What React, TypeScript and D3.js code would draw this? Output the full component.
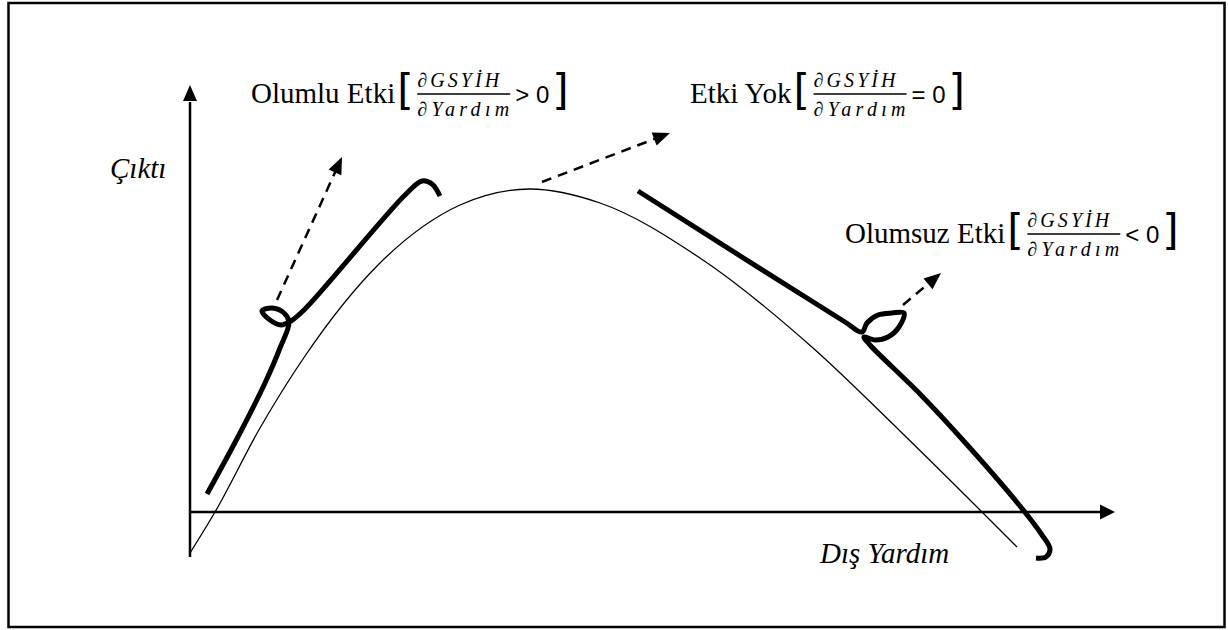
import React, { useEffect, useRef } from "react";
import * as d3 from "d3";

// units measured from the axis crossing: x = foreign aid, y = output
const baseCurve: [number, number][] = [
  [0, -41], [25, 0], [70, 84], [115, 156], [190, 249], [270, 307], [340, 323],
  [410, 309], [510, 254], [623, 164], [710, 81], [792, 0], [827, -35],
];

const positiveBranch: [number, number][] = [
  [17, 18], [50, 79], [75, 129], [90, 164], [99, 190], [94, 199], [82, 204],
  [72, 201], [80, 192], [91, 187], [101, 191], [115, 203], [215, 317],
  [232, 331], [242, 328], [250, 316],
];

const negativeBranch: [number, number][] = [
  [448, 321], [655, 190], [672, 180], [677, 189], [688, 197], [702, 199],
  [714, 199], [709, 185], [698, 175], [685, 172], [674, 175], [680, 167],
  [730, 118], [780, 64], [830, 6], [852, -23], [860, -37], [856, -45],
  [846, -46],
];

const arrowStarts: [number, number][] = [[87, 212], [352, 330], [713, 207]];
const arrowEnds: [number, number][] = [[152, 355], [480, 379], [751, 239]];

const effectLabels = ["Olumlu Etki", "Etki Yok", "Olumsuz Etki"];
const effectSigns = ["> 0", "= 0", "< 0"];
const fracTop = "∂GSYİH";
const fracBottom = "∂Yardım";
const yLabel = "Çıktı";
const xLabel = "Dış Yardım";

const W = 1228;
const H = 630;
const SERIF = "Liberation Serif";

let App = () => {
  const ref = useRef<SVGSVGElement>(null);

  useEffect(() => {
    let svg = d3.select(ref.current);
    svg.selectAll("*").remove();

    let x = d3.scaleLinear().domain([0, 910]).range([190, 1100]);
    let y = d3.scaleLinear().domain([0, 430]).range([512, 82]);

    // frame
    svg
      .append("rect")
      .attr("x", 8.5)
      .attr("y", 3)
      .attr("width", 1216)
      .attr("height", 624)
      .attr("fill", "white")
      .attr("stroke", "black")
      .attr("stroke-width", 2.5);

    let arrowHead = (tip: [number, number], from: [number, number], len: number, half: number) => {
      let dx = tip[0] - from[0];
      let dy = tip[1] - from[1];
      let l = Math.hypot(dx, dy);
      let ux = dx / l;
      let uy = dy / l;
      let bx = tip[0] - ux * len;
      let by = tip[1] - uy * len;
      return (
        "M" + tip[0] + "," + tip[1] +
        "L" + (bx - uy * half) + "," + (by + ux * half) +
        "L" + (bx + uy * half) + "," + (by - ux * half) + "Z"
      );
    };

    // axes
    svg
      .append("line")
      .attr("x1", x(0))
      .attr("y1", y(-45))
      .attr("x2", x(0))
      .attr("y2", y(410))
      .attr("stroke", "black")
      .attr("stroke-width", 2.5);
    svg
      .append("path")
      .attr("d", arrowHead([x(0), y(427)], [x(0), y(0)], 16, 7))
      .attr("fill", "black");
    svg
      .append("line")
      .attr("x1", x(0))
      .attr("y1", y(0))
      .attr("x2", x(912))
      .attr("y2", y(0))
      .attr("stroke", "black")
      .attr("stroke-width", 2.5);
    svg
      .append("path")
      .attr("d", arrowHead([x(925), y(0)], [x(0), y(0)], 15, 7.5))
      .attr("fill", "black");

    // thin base curve
    let smooth = d3
      .line<[number, number]>()
      .x((d) => x(d[0]))
      .y((d) => y(d[1]))
      .curve(d3.curveMonotoneX);
    svg
      .append("path")
      .attr("d", smooth(baseCurve))
      .attr("fill", "none")
      .attr("stroke", "black")
      .attr("stroke-width", 1.3);

    // thick hand-drawn branches
    let line = d3
      .line<[number, number]>()
      .x((d) => x(d[0]))
      .y((d) => y(d[1]))
      .curve(d3.curveCatmullRom.alpha(0.5));
    [positiveBranch, negativeBranch].forEach((branch) => {
      svg
        .append("path")
        .attr("d", line(branch))
        .attr("fill", "none")
        .attr("stroke", "black")
        .attr("stroke-width", 5)
        .attr("stroke-linejoin", "round");
    });

    // dashed effect arrows
    arrowStarts.forEach((s, i) => {
      let p0: [number, number] = [x(s[0]), y(s[1])];
      let p1: [number, number] = [x(arrowEnds[i][0]), y(arrowEnds[i][1])];
      let l = Math.hypot(p1[0] - p0[0], p1[1] - p0[1]);
      let k = (l - 12) / l;
      svg
        .append("line")
        .attr("x1", p0[0])
        .attr("y1", p0[1])
        .attr("x2", p0[0] + (p1[0] - p0[0]) * k)
        .attr("y2", p0[1] + (p1[1] - p0[1]) * k)
        .attr("stroke", "black")
        .attr("stroke-width", 2.5)
        .attr("stroke-dasharray", "10,7");
      svg.append("path").attr("d", arrowHead(p1, p0, 17, 7)).attr("fill", "black");
    });

    // effect labels with the derivative
    let labelPos = [
      { x: 251, y: 103 },
      { x: 690, y: 103 },
      { x: 845, y: 243 },
    ];
    effectLabels.forEach((txt, i) => {
      let p = labelPos[i];
      let g = svg.append("g");
      let main = g
        .append("text")
        .attr("x", p.x)
        .attr("y", p.y)
        .attr("font-family", SERIF)
        .attr("font-size", 29)
        .text(txt);
      let w = (main.node() as SVGTextElement).getComputedTextLength();
      let bx = p.x + w + 6;
      g.append("text")
        .attr("x", bx - 4)
        .attr("y", p.y + 2)
        .attr("font-family", "DejaVu Sans")
        .attr("font-size", 42)
        .text("[");
      let fx = bx + 16;
      g.append("line")
        .attr("x1", fx)
        .attr("x2", fx + 93)
        .attr("y1", p.y - 9)
        .attr("y2", p.y - 9)
        .attr("stroke", "black")
        .attr("stroke-width", 1.5);
      g.append("text")
        .attr("x", fx)
        .attr("y", p.y - 16)
        .attr("font-family", SERIF)
        .attr("font-style", "italic")
        .attr("font-size", 20)
        .attr("textLength", 82)
        .attr("lengthAdjust", "spacing")
        .text(fracTop);
      g.append("text")
        .attr("x", fx)
        .attr("y", p.y + 13)
        .attr("font-family", SERIF)
        .attr("font-style", "italic")
        .attr("font-size", 20)
        .attr("textLength", 92)
        .attr("lengthAdjust", "spacing")
        .text(fracBottom);
      g.append("text")
        .attr("x", fx + 98)
        .attr("y", p.y)
        .attr("font-family", "Liberation Sans")
        .attr("font-size", 24)
        .text(effectSigns[i]);
      g.append("text")
        .attr("x", fx + 98 + 37)
        .attr("y", p.y + 2)
        .attr("font-family", "DejaVu Sans")
        .attr("font-size", 42)
        .text("]");
    });

    // axis titles
    svg
      .append("text")
      .attr("x", 110)
      .attr("y", 178)
      .attr("font-family", SERIF)
      .attr("font-style", "italic")
      .attr("font-size", 29)
      .text(yLabel);
    svg
      .append("text")
      .attr("x", 820)
      .attr("y", 563)
      .attr("font-family", SERIF)
      .attr("font-style", "italic")
      .attr("font-size", 29)
      .text(xLabel);
  }, []);

  return (
    <svg
      ref={ref}
      width={W}
      height={H}
      style={{ position: "absolute", left: 0, top: 0, background: "white" }}
    />
  );
};

export default App;
